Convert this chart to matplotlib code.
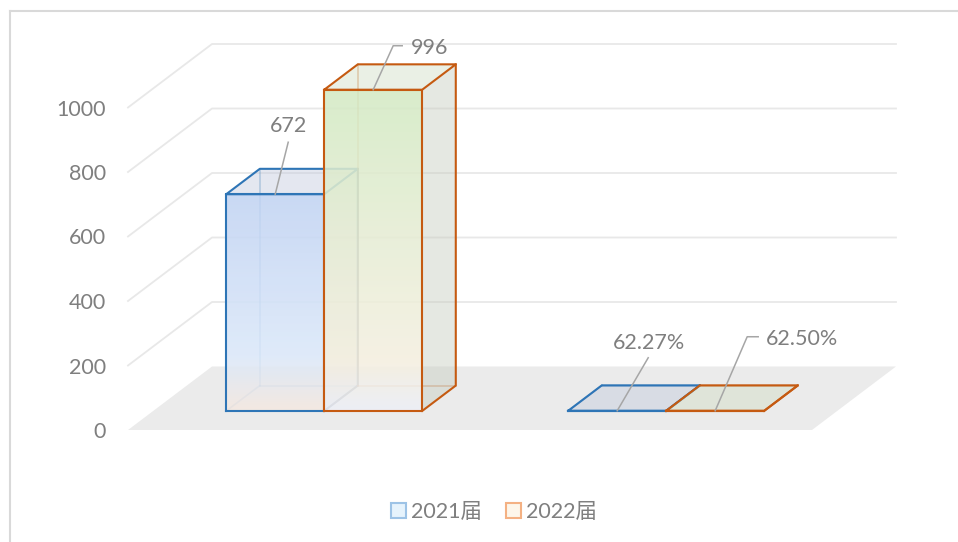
import numpy as np
import matplotlib.pyplot as plt
from matplotlib.patches import Polygon, Patch
from matplotlib.font_manager import FontProperties

# data
series = ['2021届', '2022届']
counts = [672, 996]          # first group: number of graduates
rates = [0.6227, 0.6250]     # second group: rate
ticks = [0, 200, 400, 600, 800, 1000]

groups = [counts, rates]
label_fmt = ['{:.0f}', '{:.2%}']

# layout (pixels)
W, H = 958, 542
X_FRONT, Y_ZERO = 128, 430
PX_CAT, PX_VAL = 342, 0.3225
KX = 84 / PX_CAT
KY = 63.5 / PX_VAL
BAR_W = 0.2865
Z0, Z1 = 0.30, 0.70
TEXT_DROP = 2  # px, nudges text down to sit on the grid lines

edge_cols = ['#2e75b6', '#c55a11']
top_cols = ['#c0c8dc', '#cfdcc1']
side_cols = ['#c9cfd8', '#c7ccbf']
front_stops = [
    [(0.0, (0.76, 0.83, 0.95)), (0.75, (0.86, 0.91, 0.98)), (1.0, (0.96, 0.91, 0.88))],
    [(0.0, (0.83, 0.92, 0.77)), (0.5, (0.91, 0.93, 0.84)), (0.85, (0.96, 0.94, 0.88)), (1.0, (0.93, 0.94, 0.97))],
]

# text offsets from the top-front centre of each bar, pixels (x right, y down)
text_off = [[(13, -70), (56, -44)], [(32, -70), (87, -74)]]
leaders = [[[(0, 0), (13, -52)], [(0, 0), (20, -44), (29, -44)]],
           [[(0, 0), (31, -53)], [(0, 0), (32, -74), (43, -74)]]]

plt.rcParams['font.family'] = ['Lato', 'Noto Sans CJK SC', 'DejaVu Sans']
GRAY = '#7f7f7f'
FS = 15.5

fig = plt.figure(figsize=(W / 100, H / 100), dpi=100)
ax = fig.add_axes([0, 0, 1, 1])
ax.axis('off')


def P(c, v, z):
    return (c + z * KX, v + z * KY)


def px(dx, dy):
    # pixel offset -> data offset
    return dx / PX_CAT, -dy / PX_VAL


def gradient_fill(pts, stops, alpha, z):
    patch = Polygon(pts, closed=True, fc='none', ec='none')
    ax.add_patch(patch)
    xs, ys = zip(*pts)
    t = np.linspace(0, 1, 200)
    pos = [s[0] for s in stops]
    img = np.ones((200, 1, 4))
    for k in range(3):
        img[:, 0, k] = np.interp(t, pos, [s[1][k] for s in stops])
    img[:, 0, 3] = alpha
    im = ax.imshow(img, extent=(min(xs), max(xs), min(ys), max(ys)), origin='upper',
                   aspect='auto', interpolation='bilinear', zorder=z)
    im.set_clip_path(patch)


# floor and wall grid
ax.add_patch(Polygon([P(-0.5, 0, 0), P(1.5, 0, 0), P(1.5, 0, 1), P(-0.5, 0, 1)],
                     fc='#ebebeb', ec='none', zorder=1))
for t in ticks[1:]:
    pts = [P(-0.5, t, 0), P(-0.5, t, 1), P(1.5, t, 1)]
    ax.plot([p[0] for p in pts], [p[1] for p in pts], color='#e8e8e8', lw=1.3, zorder=0.5)
for t in ticks:
    ax.text(-0.5 - 22 / PX_CAT, t + px(0, TEXT_DROP)[1], str(t), ha='right', va='center',
            fontsize=FS, color=GRAY)

# bars
for g, vals in enumerate(groups):
    for s, h in enumerate(vals):
        x0 = g - BAR_W + s * BAR_W
        x1 = x0 + BAR_W
        zb = 2 + s * 3
        ec = edge_cols[s]

        hidden = [[P(x0, 0, Z0), P(x0, 0, Z1)], [P(x0, 0, Z1), P(x1, 0, Z1)], [P(x0, 0, Z1), P(x0, h, Z1)]]
        for seg in hidden:
            ax.plot([p[0] for p in seg], [p[1] for p in seg], color=ec, lw=1.2, alpha=0.4,
                    zorder=zb, solid_capstyle='round')

        front = [P(x0, 0, Z0), P(x1, 0, Z0), P(x1, h, Z0), P(x0, h, Z0)]
        top = [P(x0, h, Z0), P(x1, h, Z0), P(x1, h, Z1), P(x0, h, Z1)]
        side = [P(x1, 0, Z0), P(x1, 0, Z1), P(x1, h, Z1), P(x1, h, Z0)]
        if h > 5:
            ax.add_patch(Polygon(side, fc=side_cols[s], alpha=0.45, ec='none', zorder=zb + 1))
            gradient_fill(front, front_stops[s], 0.88, zb + 1)
        ax.add_patch(Polygon(top, fc=top_cols[s], alpha=0.42, ec='none', zorder=zb + 1))

        visible = [front + [front[0]], top + [top[0]],
                   [P(x1, 0, Z0), P(x1, 0, Z1), P(x1, h, Z1)]]
        for seg in visible:
            ax.plot([p[0] for p in seg], [p[1] for p in seg], color=ec, lw=1.5,
                    zorder=zb + 2, solid_joinstyle='round')

        # value label with leader line
        ac = P((x0 + x1) / 2, h, Z0)
        lx = [ac[0] + px(*q)[0] for q in leaders[g][s]]
        ly = [ac[1] + px(*q)[1] for q in leaders[g][s]]
        ax.plot(lx, ly, color='#a6a6a6', lw=1.1, zorder=10)
        tx, ty = px(text_off[g][s][0], text_off[g][s][1] + TEXT_DROP)
        ax.text(ac[0] + tx, ac[1] + ty, label_fmt[g].format(h), ha='center', va='center',
                fontsize=FS, color=GRAY, zorder=11)

# chart border (top and left)
bx, by = 9.5 / W, 1 - 10.5 / H
ax.plot([bx, 1], [by, by], color='#d9d9d9', lw=1.5, transform=ax.transAxes, clip_on=False)
ax.plot([bx, bx], [0, by], color='#d9d9d9', lw=1.5, transform=ax.transAxes, clip_on=False)

handles = [Patch(fc='#e6f3fc', ec='#9dc3e6', lw=1.5), Patch(fc='#fdf6ea', ec='#f4b183', lw=1.5)]
fig.legend(handles, series, loc='center', bbox_to_anchor=(494 / W, 1 - 512 / H), ncol=2,
           frameon=False, prop=FontProperties(family=['Lato', 'Noto Sans CJK SC'], size=FS),
           labelcolor=GRAY, handlelength=0.7, handleheight=0.75, handletextpad=0.25,
           columnspacing=1.1)

ax.set_xlim(-0.5 - X_FRONT / PX_CAT, -0.5 + (W - X_FRONT) / PX_CAT)
ax.set_ylim(-(H - Y_ZERO) / PX_VAL, Y_ZERO / PX_VAL)

fig.savefig('out.png', dpi=100, facecolor='white')
